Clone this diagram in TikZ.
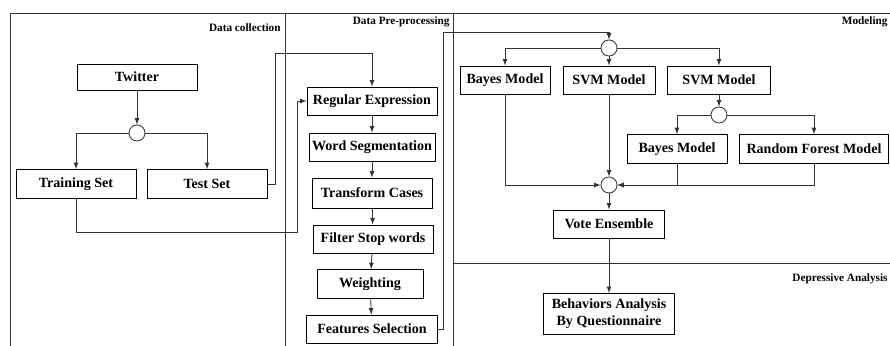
\documentclass[tikz,border=0pt]{standalone}
\usepackage{fontspec}
\setmainfont{Liberation Serif}
\usepackage{tikz}
\usetikzlibrary{arrows,positioning}
\colorlet{trait}{black!80}

\begin{document}
\begin{tikzpicture}[x=0.025cm,y=-0.025cm,line width=0.6pt,draw=trait]%
        \clip (0,0) rectangle (890,345); %%
        %% frame and lanes
        \draw[trait] (10,13) rectangle (900,360); %%
        \draw[trait] (285,13)--(285,360); %%
        \draw[trait] (453,13)--(453,360); %%
        \draw[trait] (453,263)--(900,263); %%
        \begin{scope}[font=\footnotesize\bfseries]
        \node[anchor=east,inner sep=0pt] (lcol) at (281,28)  {Data collection}; %%
        \node[anchor=east,inner sep=0pt] (lpre) at (450,22)  {Data Pre-processing}; %%
        \node[anchor=east,inner sep=0pt] (lmod) at (888,22)  {Modeling}; %%
        \node[anchor=east,inner sep=0pt] (ldep) at (888,279)  {Depressive Analysis}; %%
        \end{scope}
        \begin{scope}[shape=circle,inner sep=0pt]
        \tikzstyle{every node}=[draw=trait,fill=white,minimum size=0.4cm] %%
        \node (c1) at (137,133)  {}; %%
        \node (c2) at (609,48)  {}; %%
        \node (c3) at (719,115)  {}; %%
        \node (c4) at (609,185)  {}; %%
        \end{scope}
        \begin{scope}[shape=rectangle,inner sep=.05cm]
        \tikzstyle{every node}=[draw=black,fill=white,font=\bfseries,minimum height=0.7cm] %%
        \node[minimum width=3cm,minimum height=0.65cm] (tw) at (137,77)  {Twitter}; %%
        \node[minimum width=3cm,minimum height=0.72cm] (tr) at (76,184)  {Training Set}; %%
        \node[minimum width=3cm,minimum height=0.72cm] (te) at (207,184)  {Test Set}; %%
        \node[minimum width=3.25cm] (re) at (372,101)  {Regular Expression}; %%
        \node[minimum width=3.15cm] (ws) at (372,147)  {Word Segmentation}; %%
        \node[minimum width=3cm,minimum height=0.75cm] (tc) at (372,193)  {Transform Cases}; %%
        \node[minimum width=3cm] (fs) at (373,239)  {Filter Stop words}; %%
        \node[minimum width=2.65cm,minimum height=0.72cm] (wt) at (370,284)  {Weighting}; %%
        \node[minimum width=3.28cm] (fsel) at (372,329)  {Features Selection}; %%
        \node[minimum width=2.25cm] (bm1) at (505,80)  {Bayes Model}; %%
        \node[minimum width=2.3cm] (svm1) at (609,80)  {SVM Model}; %%
        \node[minimum width=2.58cm] (svm2) at (719,80)  {SVM Model}; %%
        \node[minimum width=2.5cm,minimum height=0.72cm] (bm2) at (677,149)  {Bayes Model}; %%
        \node[minimum width=3.72cm,minimum height=0.72cm] (rf) at (814,149)  {Random Forest Model}; %%
        \node[minimum width=2.78cm] (ve) at (609,224)  {Vote Ensemble}; %%
        \node[minimum width=3.28cm,minimum height=1.03cm,align=center] (ba) at (609,314)  {Behaviors Analysis\\By Questionnaire}; %%
        \end{scope}
        \coordinate (k1) at (275,53); %%
        \coordinate (k2) at (297,232); %%
        \coordinate (k3) at (443,32); %%
        %% data collection
        \draw[->,-latex] (tw)--(c1);  %%
        \draw[->,-latex] (c1.west)-|(tr.north);  %%
        \draw[->,-latex] (c1.east)-|(te.north);  %%
        \draw[->,-latex] (te.east)-|(k1)-|(re.north);  %%
        \draw[->,-latex] (tr.south)|-(k2)|-(re.west);  %%
        %% pre-processing
        \draw[->,-latex] (re)--(ws);  %%
        \draw[->,-latex] (ws)--(tc);  %%
        \draw[->,-latex] (tc)--(fs);  %%
        \draw[->,-latex] (fs)--(wt);  %%
        \draw[->,-latex] (wt)--(fsel);  %%
        \draw[->,-latex] (fsel.east)-|(k3)-|(c2.north);  %%
        %% modeling
        \draw[->,-latex] (c2.west)-|(bm1.north);  %%
        \draw[->,-latex] (c2)--(svm1);  %%
        \draw[->,-latex] (c2.east)-|(svm2.north);  %%
        \draw[->,-latex] (svm2)--(c3);  %%
        \draw[->,-latex] (c3.west)-|(bm2.north);  %%
        \draw[->,-latex] (c3.east)-|(rf.north);  %%
        \draw[->,-latex] (bm1.south)|-(c4.west);  %%
        \draw[->,-latex] (svm1)--(c4);  %%
        \draw[->,-latex] (bm2.south)|-(c4.east);  %%
        \draw[->,-latex] (rf.south)|-(c4.east);  %%
        \draw[->,-latex] (c4)--(ve);  %%
        %% depressive analysis
        \draw[->,-latex] (ve)--(ba);  %%
        \end{tikzpicture}
\end{document}
